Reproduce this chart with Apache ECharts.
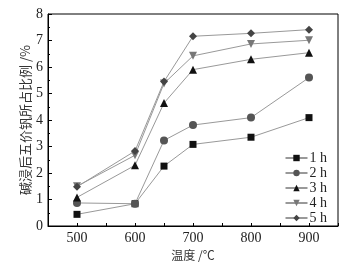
<!DOCTYPE html>
<html>
<head>
<meta charset="utf-8">
<script src="https://cdn.jsdelivr.net/npm/echarts@6/dist/echarts.min.js"></script>
<style>
html, body { margin: 0; padding: 0; background: #fff; }
#chart { width: 356px; height: 267px; }
</style>
</head>
<body>
<div id="chart"></div>
<script>
// 温度 (℃)
var temps = [500, 600, 650, 700, 800, 900];
var names = ['1 h', '2 h', '3 h', '4 h', '5 h'];
var h1 = [0.44, 0.84, 2.26, 3.08, 3.35, 4.09];
var h2 = [0.87, 0.84, 3.23, 3.81, 4.09, 5.60];
var h3 = [1.08, 2.29, 4.64, 5.90, 6.29, 6.54];
var h4 = [1.50, 2.67, 5.38, 6.42, 6.87, 7.01];
var h5 = [1.48, 2.83, 5.45, 7.16, 7.27, 7.41];

var symbols = ['rect', 'circle', 'triangle', 'path://M0,0 L10,0 L5,9 Z', 'diamond'];
var sizes = [7, 8, 8, 8, 8];
var colors = ['#111', '#555', '#111', '#777', '#444'];
var allData = [h1, h2, h3, h4, h5];

var font = 'Liberation Serif, Times New Roman, serif';

function pairs(arr) {
	var out = [];
	for (var i = 0; i < temps.length; i++) {
		out.push([temps[i], arr[i]]);
	}
	return out;
}

var series = [];
for (var i = 0; i < names.length; i++) {
	series.push({
		name: names[i],
		type: 'line',
		data: pairs(allData[i]),
		symbol: symbols[i],
		symbolSize: sizes[i],
		itemStyle: { color: colors[i] },
		lineStyle: { color: '#999', width: 1 },
		animation: false
	});
}

var myChart = echarts.init(document.getElementById('chart'));
var option = {
	backgroundColor: '#fff',
	grid: {
		left: 48, right: 18, top: 14, bottom: 41,
		show: true, borderColor: '#000', borderWidth: 1
	},
	legend: {
		orient: 'vertical',
		right: 24,
		top: 146,
		itemWidth: 22,
		itemHeight: 8,
		itemGap: 1,
		textStyle: { fontFamily: font, fontSize: 14, lineHeight: 12, color: '#222', padding: [0, 0, 0, -3] },
		data: names
	},
	xAxis: {
		type: 'value',
		min: 450, max: 950,
		interval: 50,
		name: '温度 /℃',
		nameLocation: 'middle',
		nameGap: 23,
		nameMoveOverlap: false,
		nameTextStyle: { fontFamily: 'Noto Sans CJK SC', fontSize: 12, color: '#333' },
		axisLine: { lineStyle: { color: '#000' } },
		axisTick: { inside: true, length: 3, lineStyle: { color: '#000' } },
		axisLabel: {
			fontFamily: font, fontSize: 14, color: '#222', margin: 5,
			formatter: function (v) { return (v % 100 === 0) ? v : ''; }
		},
		splitLine: { show: false }
	},
	yAxis: {
		type: 'value',
		min: 0, max: 8, interval: 1,
		name: '碱浸后五价钒所占比例 /%',
		nameLocation: 'middle',
		nameGap: 16,
		nameMoveOverlap: false,
		nameTextStyle: { fontFamily: 'Noto Sans CJK SC', fontSize: 13, color: '#333' },
		axisLine: { lineStyle: { color: '#000' } },
		axisTick: { inside: true, length: 4, lineStyle: { color: '#000' } },
		minorTick: { show: true, splitNumber: 2, length: 2, lineStyle: { color: '#000' } },
		axisLabel: { fontFamily: font, fontSize: 14, color: '#222', margin: 5 },
		splitLine: { show: false }
	},
	series: series
};
myChart.setOption(option);
</script>
</body>
</html>
